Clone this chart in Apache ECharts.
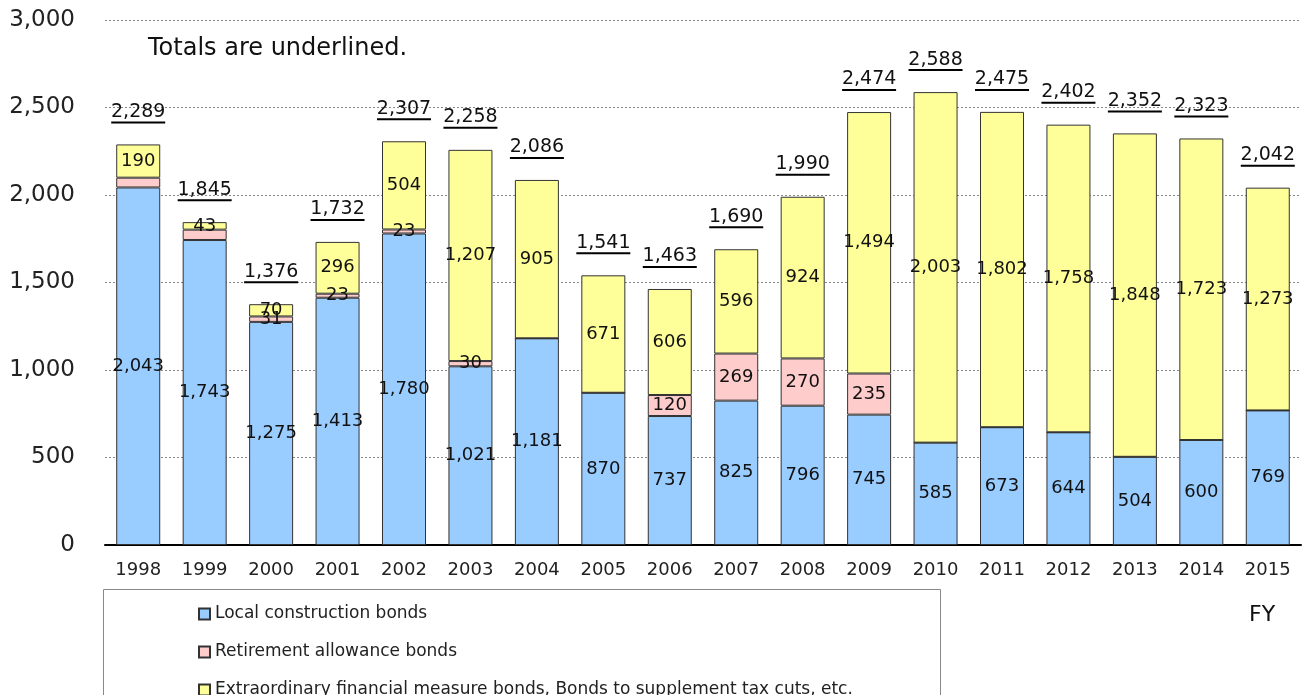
<!DOCTYPE html>
<html>
<head>
<meta charset="utf-8">
<script src="https://cdn.jsdelivr.net/npm/echarts@6/dist/echarts.min.js"></script>
<style>
html, body { margin: 0; padding: 0; background: #fff; }
#container { width: 1309px; height: 695px; }
</style>
</head>
<body>
<div id="container"></div>
<script>
/* 年度 */
var years = ['1998', '1999', '2000', '2001', '2002', '2003', '2004', '2005', '2006',
    '2007', '2008', '2009', '2010', '2011', '2012', '2013', '2014', '2015'];
/* Local construction bonds */
var localBonds = [2043, 1743, 1275, 1413, 1780, 1021, 1181, 870, 737, 825, 796, 745, 585, 673, 644, 504, 600, 769];
/* Retirement allowance bonds */
var retireBonds = [56, 59, 31, 23, 23, 30, 0, 0, 120, 269, 270, 235, 0, 0, 0, 0, 0, 0];
/* Extraordinary financial measure bonds etc. */
var extraBonds = [190, 43, 70, 296, 504, 1207, 905, 671, 606, 596, 924, 1494, 2003, 1802, 1758, 1848, 1723, 1273];
/* 合計 */
var totals = [2289, 1845, 1376, 1732, 2307, 2258, 2086, 1541, 1463, 1690, 1990, 2474, 2588, 2475, 2402, 2352, 2323, 2042];
/* 不显示标签的退职债 */
var hideRetireLabel = ['1998', '1999'];

var FONT = '"DejaVu Sans", sans-serif';

function fmt(v) {
    return String(v).replace(/\B(?=(\d{3})+(?!\d))/g, ',');
}

var segLabel = {
    show: true,
    position: 'inside',
    color: '#111',
    fontSize: 18,
    fontFamily: FONT,
    formatter: function (p) { return fmt(p.value); }
};

var retireData = retireBonds.map(function (v, i) {
    var hide = v === 0 || hideRetireLabel.indexOf(years[i]) >= 0;
    return { value: v, label: { show: !hide } };
});

var dom = document.getElementById('container');
var myChart = echarts.init(dom);

var option = {
    animation: false,
    textStyle: { fontFamily: FONT },
    grid: { left: 105, right: 8, top: 20, bottom: 150 },
    legend: {
        data: ['Local construction bonds', 'Retirement allowance bonds',
            'Extraordinary financial measure bonds, Bonds to supplement tax cuts, etc.'],
        orient: 'vertical',
        left: 193,
        top: 599,
        height: 200,
        itemWidth: 11,
        itemHeight: 11,
        itemGap: 18,
        icon: 'rect',
        textStyle: { fontSize: 17, color: '#222', fontFamily: FONT, lineHeight: 20 },
        selectedMode: false
    },
    xAxis: {
        type: 'category',
        data: years,
        axisLine: { lineStyle: { color: '#000', width: 2 } },
        axisTick: { show: false },
        axisLabel: { color: '#222', fontSize: 18, margin: 16, fontFamily: FONT }
    },
    yAxis: {
        type: 'value',
        min: 0,
        max: 3000,
        interval: 500,
        axisLine: { show: false },
        axisTick: { show: false },
        axisLabel: { color: '#222', fontSize: 23, margin: 30, fontFamily: FONT,
            formatter: function (v) { return fmt(v); } },
        splitLine: { lineStyle: { color: '#888', type: [2, 2], width: 1 } }
    },
    graphic: [
        {
            type: 'rect',
            shape: { x: 103.5, y: 589.5, width: 837, height: 120 },
            style: { fill: 'none', stroke: '#888', lineWidth: 1 }
        },
        {
            type: 'text', left: 148, top: 37,
            style: { text: 'Totals are underlined.', fontSize: 24, fill: '#111', fontFamily: FONT }
        },
        {
            type: 'text', left: 1249, top: 604,
            style: { text: 'FY', fontSize: 22, fill: '#111', fontFamily: FONT }
        }
    ],
    series: [
        {
            name: 'Local construction bonds',
            type: 'bar',
            stack: 'total',
            barWidth: 44,
            data: localBonds,
            itemStyle: { color: '#99CCFF', borderColor: '#333', borderWidth: 1 },
            label: segLabel
        },
        {
            name: 'Retirement allowance bonds',
            type: 'bar',
            stack: 'total',
            data: retireData,
            itemStyle: { color: '#FFCCCC', borderColor: '#333', borderWidth: 1 },
            label: segLabel
        },
        {
            name: 'Extraordinary financial measure bonds, Bonds to supplement tax cuts, etc.',
            type: 'bar',
            stack: 'total',
            data: extraBonds,
            itemStyle: { color: '#FFFF99', borderColor: '#333', borderWidth: 1 },
            label: segLabel
        },
        {
            /*合计（带下划线）*/
            name: 'totals',
            type: 'custom',
            data: totals.map(function (v, i) { return [i, v]; }),
            renderItem: function (params, api) {
                var p = api.coord([api.value(0), api.value(1)]);
                var y = p[1] - 22;
                return {
                    type: 'group',
                    children: [
                        {
                            type: 'text',
                            style: {
                                text: fmt(api.value(1)), x: p[0], y: y - 1,
                                align: 'center', verticalAlign: 'bottom',
                                fontSize: 19, fill: '#111', fontFamily: FONT
                            }
                        },
                        {
                            type: 'line',
                            shape: { x1: p[0] - 27, y1: y, x2: p[0] + 27, y2: y },
                            style: { stroke: '#000', lineWidth: 2 }
                        }
                    ]
                };
            },
            z: 5
        }
    ]
};

myChart.setOption(option);
</script>
</body>
</html>
